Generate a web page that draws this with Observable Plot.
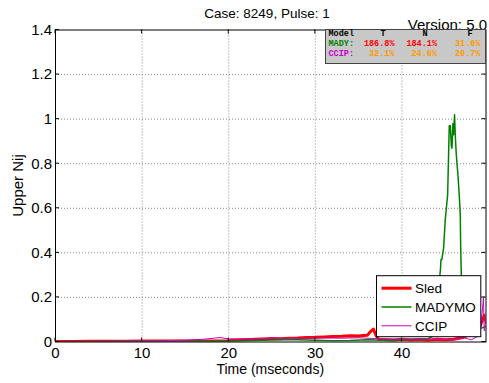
<!DOCTYPE html>
<html><head><meta charset="utf-8">
<script src="https://cdn.jsdelivr.net/npm/d3@7"></script>
<script src="https://cdn.jsdelivr.net/npm/@observablehq/plot@0.6"></script>
<style>body{margin:0;background:#fff}</style>
</head><body><div id="chart"></div>
<script>
// ---- data ----
const sledT = [0,2,4,6,8,10,12,14,16,18,20,21,22,23,24,25,26,27,28,29,30,31,32,33,34,35,35.5,36,36.4,36.7,37,37.3,38,39,40,41,42,43,44,45,46,47,47.5,48,48.5,49,49.3,49.5,49.7];
const sledV = [0.002,0.002,0.003,0.003,0.003,0.004,0.004,0.004,0.005,0.005,0.006,0.008,0.01,0.012,0.014,0.016,0.015,0.017,0.018,0.02,0.021,0.023,0.025,0.026,0.028,0.027,0.029,0.03,0.048,0.058,0.03,0.012,0.01,0.008,0.012,0.009,0.011,0.008,0.012,0.01,0.012,0.02,0.03,0.04,0.05,0.07,0.1,0.12,0.09];
const madymoT = [0,5,10,15,20,22,24,26,28,30,32,34,36,38,40,42,43,43.8,44.1,44.35,44.45,44.5,44.6,44.8,45.0,45.1,45.27,45.38,45.46,45.58,45.7,45.77,45.88,45.95,46.07,46.15,46.27,46.46,46.61,46.73,46.78,46.85,46.9,47.0,47.5,48,48.5,49,49.7];
const madymoV = [0.001,0.002,0.003,0.004,0.005,0.006,0.008,0.01,0.01,0.008,0.006,0.007,0.01,0.008,0.01,0.012,0.015,0.03,0.12,0.29,0.33,0.37,0.37,0.42,0.55,0.59,0.66,0.84,0.97,0.97,0.88,0.87,0.98,0.93,1.02,0.93,0.84,0.75,0.66,0.57,0.42,0.3,0.15,0.08,0.06,0.05,0.05,0.06,0.07];
const ccipT = [0,5,10,12,15,17,19,20,22,24,25,27,29,31,33,35,37,40,43,46,47,48,49,49.3,49.4,49.5,49.7];
const ccipV = [0.002,0.003,0.005,0.006,0.008,0.012,0.02,0.014,0.015,0.016,0.018,0.016,0.017,0.018,0.017,0.019,0.015,0.013,0.013,0.01,0.02,0.01,0.03,0.15,0.2,0.05,0.1];

const xTicks = [0,10,20,30,40];
const yTicks = [0,0.2,0.4,0.6,0.8,1,1.2,1.4];
const xDomain = [0,49.7];
const yDomain = [0,1.4];
const titleText = "Case: 8249, Pulse: 1";
const versionText = "Version: 5.0";
const xLabel = "Time (mseconds)";
const yLabel = "Upper Nij";
const seriesNames = ["Sled","MADYMO","CCIP"];
const seriesColors = ["#ff0000","#008000","#cc00cc"];
const seriesWidths = [3,1.5,1];
const tableHeader = ["Model","T","N","F"];
const tableRowNames = ["MADY:","CCIP:"];
const tableRowColors = ["#008000","#cc00cc"];
const tableValues = [["186.8%","184.1%","31.6%"],["32.1%","24.6%","20.7%"]];
const tableValueColors = [["#ff0000","#ff0000","#ff9900"],["#ff9900","#ff9900","#ff9900"]];

const toRows = (T,V) => T.map((t,i)=>({t, v:V[i]}));
const series = [toRows(sledT,sledV), toRows(madymoT,madymoV), toRows(ccipT,ccipV)];

const W = 489, H = 383;
const mL = 55, mR = 3.5, mT = 29.5, mB = 41.5;
const font = "'Liberation Sans', Arial, sans-serif";

const chart = Plot.plot({
  width: W, height: H,
  marginLeft: mL, marginRight: mR, marginTop: mT, marginBottom: mB,
  style: {fontFamily: font, fontSize: "15px", color: "#000", background: "#fff"},
  x: {domain: xDomain},
  y: {domain: yDomain},
  marks: [
    Plot.gridX(xTicks.slice(1), {stroke: "#888", strokeOpacity: 1, strokeDasharray: "1,2"}),
    Plot.gridY(yTicks.slice(1,-1), {stroke: "#888", strokeOpacity: 1, strokeDasharray: "1,2"}),
    ...series.map((d,i) => Plot.line(d, {x: "t", y: "v", stroke: seriesColors[i], strokeWidth: seriesWidths[i], clip: true})),
    Plot.axisX(xTicks, {tickSize: 0, tickPadding: 5, label: null, fontSize: 15, tickFormat: d => String(d)}),
    Plot.axisY(yTicks, {tickSize: 0, tickPadding: 3.5, label: null, fontSize: 15, tickFormat: d => String(d)}),
    Plot.frame({stroke: "#000", strokeWidth: 1})
  ]
});
document.getElementById("chart").appendChild(chart);

const svg = d3.select(chart);
const xs = chart.scale("x"), ys = chart.scale("y");
const L = mL, R = W - mR, T = mT, B = H - mB;

// inward ticks on all four sides
const tg = svg.append("g").attr("stroke", "#000").attr("stroke-width", 1);
xTicks.forEach(t => {
  const x = xs.apply(t);
  tg.append("line").attr("x1", x).attr("x2", x).attr("y1", B).attr("y2", B - 4);
  tg.append("line").attr("x1", x).attr("x2", x).attr("y1", T).attr("y2", T + 4);
});
yTicks.forEach(t => {
  const y = ys.apply(t);
  tg.append("line").attr("x1", L).attr("x2", L + 4).attr("y1", y).attr("y2", y);
  tg.append("line").attr("x1", R).attr("x2", R - 4).attr("y1", y).attr("y2", y);
});

// title / version / axis labels
svg.append("text").attr("x", 267).attr("y", 18).attr("text-anchor", "middle")
  .style("font-family", font).style("font-size", "13.5px").text(titleText);
svg.append("text").attr("x", R + 1.5).attr("y", T).attr("text-anchor", "end")
  .style("font-family", font).style("font-size", "15px").text(versionText);
svg.append("text").attr("x", (L + R) / 2).attr("y", 374).attr("text-anchor", "middle")
  .style("font-family", font).style("font-size", "14px").text(xLabel);
svg.append("text").attr("transform", `translate(22.5,${(T + B) / 2}) rotate(-90)`).attr("text-anchor", "middle")
  .style("font-family", font).style("font-size", "15px").text(yLabel);

// info table box (top right)
const mono = "'Liberation Mono', 'DejaVu Sans Mono', monospace";
const bx0 = R - 160, by0 = T, bw = 160, bh = 34;
const ib = svg.append("g");
ib.append("rect").attr("x", bx0).attr("y", by0).attr("width", bw).attr("height", bh)
  .attr("fill", "#c8c8c8").attr("stroke", "#444").attr("stroke-width", 1);
const colEnds = [bx0 + 69, bx0 + 111.5, bx0 + 155];
const headX = [bx0 + 3, bx0 + 55, bx0 + 97, bx0 + 142];
tableHeader.forEach((h, i) => {
  ib.append("text").attr("x", headX[i]).attr("y", by0 + 6).attr("text-anchor", "start")
    .style("font-family", mono).style("font-size", "8.5px").style("font-weight", "bold")
    .attr("fill", "#000").text(h);
});
tableRowNames.forEach((n, r) => {
  const y = by0 + 16 + r * 10.7;
  ib.append("text").attr("x", bx0 + 3).attr("y", y).attr("text-anchor", "start")
    .style("font-family", mono).style("font-size", "8.5px").style("font-weight", "bold")
    .attr("fill", tableRowColors[r]).text(n);
  tableValues[r].forEach((v, c) => {
    ib.append("text").attr("x", colEnds[c]).attr("y", y).attr("text-anchor", "end")
      .style("font-family", mono).style("font-size", "8.5px").style("font-weight", "bold")
      .attr("fill", tableValueColors[r][c]).text(v);
  });
});

// legend (bottom right)
const lx1 = R - 4.7, lx0 = lx1 - 104.3, ly1 = B - 4.8, ly0 = ly1 - 61;
const lg = svg.append("g");
lg.append("rect").attr("x", lx0).attr("y", ly0).attr("width", lx1 - lx0).attr("height", ly1 - ly0)
  .attr("fill", "#fff").attr("stroke", "#000").attr("stroke-width", 1);
seriesNames.forEach((n, i) => {
  const y = ly0 + 12.5 + i * 18.8;
  lg.append("line").attr("x1", lx0 + 5).attr("x2", lx0 + 35).attr("y1", y).attr("y2", y)
    .attr("stroke", seriesColors[i]).attr("stroke-width", seriesWidths[i]);
  lg.append("text").attr("x", lx0 + 38.5).attr("y", y + 4.8).attr("text-anchor", "start")
    .style("font-family", font).style("font-size", "13.5px").attr("fill", "#000").text(n);
});
</script>
</body></html>
